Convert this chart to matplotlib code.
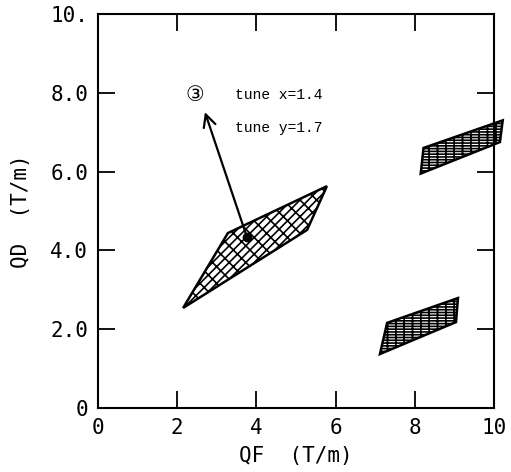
import numpy as np
import matplotlib
matplotlib.use("Agg")
import matplotlib.pyplot as plt
from matplotlib.patches import Polygon

# corners of the three mapped regions (QF, QD) in T/m
mesh_a_qf = [2.15, 3.28, 5.78, 5.28]
mesh_a_qd = [2.54, 4.44, 5.63, 4.52]
mesh_b_qf = [8.15, 8.22, 10.22, 10.15]
mesh_b_qd = [5.95, 6.60, 7.30, 6.75]
mesh_c_qf = [7.12, 7.30, 9.09, 9.04]
mesh_c_qd = [1.37, 2.16, 2.79, 2.18]

# working point and arrow to the label
point_qf, point_qd = 3.76, 4.34
arrow_qf, arrow_qd = 2.70, 7.51

xticks = [0, 2, 4, 6, 8, 10]
xticklabels = ["0", "2", "4", "6", "8", "10"]
yticks = [0, 2, 4, 6, 8, 10]
yticklabels = ["0", "2.0", "4.0", "6.0", "8.0", "10."]

fig = plt.figure(figsize=(5.11, 4.72), dpi=100)
ax = fig.add_axes([98/511, (472-408)/472, (494-98)/511, (408-14)/472])

plt.rcParams['hatch.linewidth'] = 1.2

#meshes
#----------------------------------------------
ax.add_patch(Polygon(np.column_stack([mesh_a_qf, mesh_a_qd]), closed=True,
                     facecolor="white", edgecolor="black", lw=1.8, hatch="////\\\\"))
ax.add_patch(Polygon(np.column_stack([mesh_b_qf, mesh_b_qd]), closed=True,
                     facecolor="white", edgecolor="black", lw=1.8, hatch="------||",
                     clip_on=False))
ax.add_patch(Polygon(np.column_stack([mesh_c_qf, mesh_c_qd]), closed=True,
                     facecolor="white", edgecolor="black", lw=1.8, hatch="------||"))

#arrow + dot
#----------------------------------------------
ax.plot(point_qf, point_qd, "o", color="black", ms=6)
ax.annotate("", xy=(arrow_qf, arrow_qd), xytext=(point_qf, point_qd),
            arrowprops=dict(arrowstyle="->", color="black", lw=1.6,
                            mutation_scale=22, shrinkA=0, shrinkB=0))

ax.text(2.45, 7.94, "③", ha="center", va="center", fontsize=15,
        family=["DejaVu Sans", "Noto Sans CJK JP"])
ax.text(3.46, 7.94, "tune x=1.4", ha="left", va="center", fontsize=10.5,
        family="Liberation Mono")
ax.text(3.46, 7.11, "tune y=1.7", ha="left", va="center", fontsize=10.5,
        family="Liberation Mono")

ax.set_xlim(0, 10)
ax.set_ylim(0, 10)
ax.set_xticks(xticks)
ax.set_xticklabels(xticklabels)
ax.set_yticks(yticks)
ax.set_yticklabels(yticklabels)
ax.tick_params(direction="in", length=12, width=1.3, top=True, right=True,
               labelsize=15, pad=7)
for lab in ax.get_xticklabels() + ax.get_yticklabels():
    lab.set_family("DejaVu Sans Mono")
for sp in ax.spines.values():
    sp.set_linewidth(1.5)

ax.set_xlabel("QF  (T/m)", family="DejaVu Sans Mono", fontsize=15, labelpad=6)
ax.set_ylabel("QD  (T/m)", family="DejaVu Sans Mono", fontsize=15, labelpad=14)

fig.savefig("out.png", dpi=100)
